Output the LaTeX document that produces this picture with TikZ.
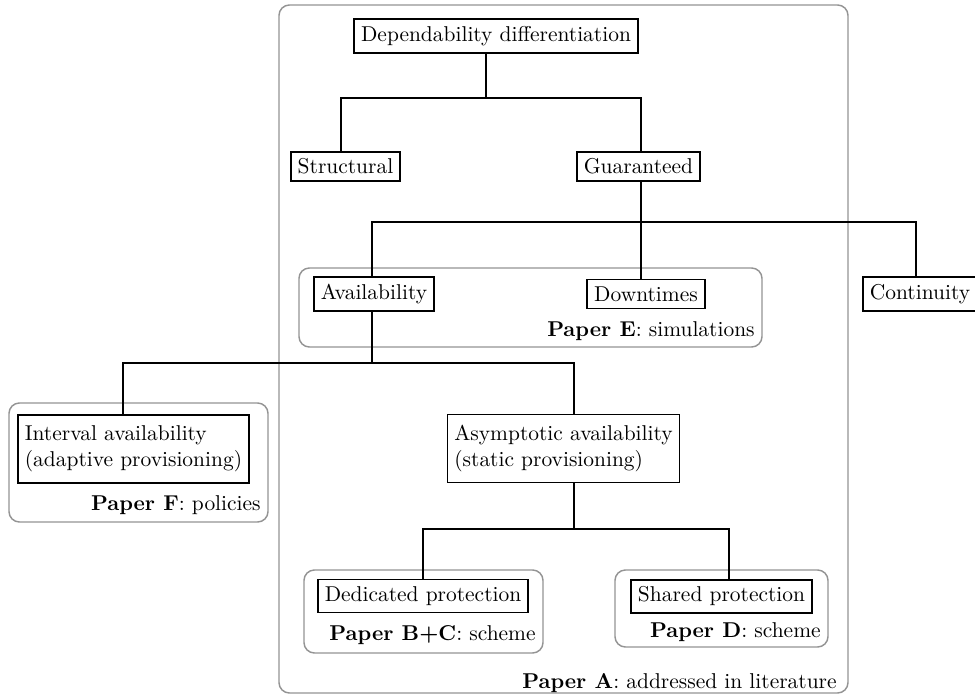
\documentclass[tikz,border=0pt]{standalone}
\usetikzlibrary{calc}
\begin{document}
\begin{tikzpicture}[x=0.48pt,y=-0.48pt,
  every node/.style={font=\fontsize{10.3}{12.6}\selectfont},
  box/.style={draw=black,line width=0.8pt,inner sep=3.33pt},
  twoline/.style={box,align=left,minimum height=32.5pt},
  link/.style={draw=black,line width=0.8pt},
  frame/.style={draw=black!42,line width=0.7pt,rounded corners=5pt},
  tag/.style={anchor=east,inner sep=3.33pt}]
\useasboundingbox (0,0) rectangle (975,696);

% grouping frames
\draw[frame] (279,5) rectangle (848,693);
\draw[frame] (299,268) rectangle (762,347);
\draw[frame] (9,403) rectangle (268,522);
\draw[frame] (304,570) rectangle (543,653);
\draw[frame] (615,570) rectangle (828,647);

% tree nodes
\node[box] (root)   at (496,36)     {Dependability differentiation};
\node[box] (struct) at (345.5,166.5) {Structural};
\node[box] (guar)   at (638.5,166.5) {Guaranteed};
\node[box] (avail)  at (374,294)    {Availability};
\node[box] (down)   at (646,294)    {Downtimes};
\node[box] (cont)   at (920,294)    {Continuity};
\node[twoline] (inter) at (133.5,449) {Interval availability\\(adaptive provisioning)};
\node[twoline] (asym)  at (563.5,448.5) {Asymptotic availability\\(static provisioning)};
\node[box] (ded)    at (423,596)    {Dedicated protection};
\node[box] (shar)   at (721.5,596.5) {Shared protection};

% frame captions
\node[tag] (capE) at (762,331) {\textbf{Paper E}: simulations};
\node[tag] (capF) at (268,505) {\textbf{Paper F}: policies};
\node[tag] (capBC) at (543,635) {\textbf{Paper B+C}: scheme};
\node[tag] (capD) at (828,632) {\textbf{Paper D}: scheme};
\node[tag] (capA) at (844,683) {\textbf{Paper A}: addressed in literature};

% fork levels
\coordinate (f1) at (0,98);
\coordinate (f2) at (0,222);
\coordinate (f3) at (0,363);
\coordinate (f4) at (0,529);

% connectors
\coordinate (r0) at ($(root.south)+(-10,0)$);
\draw[link] (r0) -- (r0 |- f1);
\draw[link] (r0 |- f1) -| ($(struct.north)+(-4.5,0)$);
\draw[link] (r0 |- f1) -| ($(guar.north)+(2.5,0)$);

\coordinate (g0) at ($(guar.south)+(2.5,0)$);
\draw[link] (g0) -- ($(down.north)+(-5,0)$);
\draw[link] (g0 |- f2) -| ($(avail.north)+(-2,0)$);
\draw[link] (g0 |- f2) -| ($(cont.north)+(-4,0)$);

\coordinate (a0) at ($(avail.south)+(-2,0)$);
\draw[link] (a0) -- (a0 |- f3);
\draw[link] (a0 |- f3) -| ($(inter.north)+(-10.5,0)$);
\draw[link] (a0 |- f3) -| ($(asym.north)+(10.5,0)$);

\coordinate (s0) at ($(asym.south)+(10.5,0)$);
\draw[link] (s0) -- (s0 |- f4);
\draw[link] (s0 |- f4) -| (ded.north);
\draw[link] (s0 |- f4) -| ($(shar.north)+(7.5,0)$);
\end{tikzpicture}
\end{document}
